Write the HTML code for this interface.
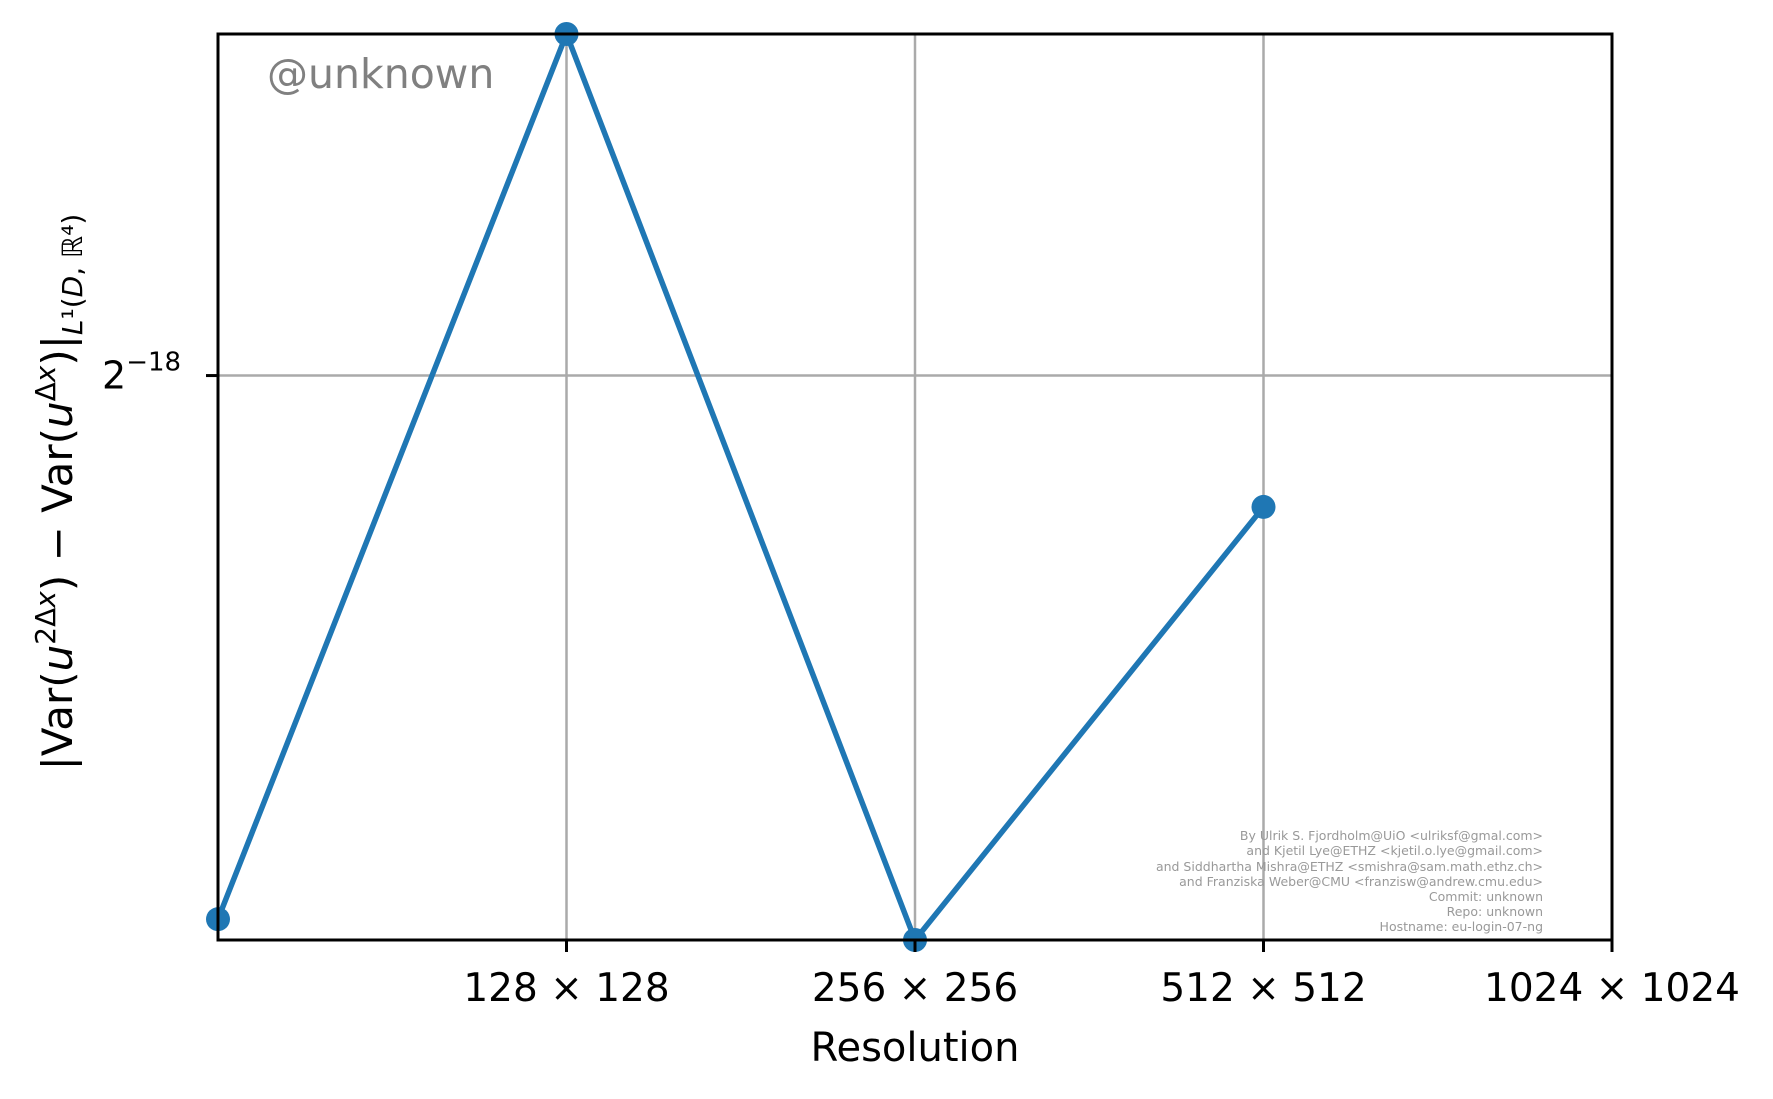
<!DOCTYPE html>
<html><head><meta charset="utf-8">
<style>
html,body{margin:0;padding:0;background:#fff;}
svg{display:block;font-family:"DejaVu Sans","Liberation Sans",sans-serif;}
</style></head>
<body>
<svg id="chart" width="1773" height="1099" viewBox="0 0 1773 1099">
  <g id="grid"></g>
  <g id="series"></g>
  <rect x="218" y="34" width="1394" height="906" fill="none" stroke="#000" stroke-width="3"/>
  <g id="ticks"></g>
  <text x="267" y="88" font-size="41" fill="#808080">@unknown</text>
  <g font-size="12.5" fill="#999" text-anchor="end">
    <text x="1543" y="840">By Ulrik S. Fjordholm@UiO &lt;ulriksf@gmal.com&gt;</text>
    <text x="1543" y="855">and Kjetil Lye@ETHZ &lt;kjetil.o.lye@gmail.com&gt;</text>
    <text x="1543" y="871">and Siddhartha Mishra@ETHZ &lt;smishra@sam.math.ethz.ch&gt;</text>
    <text x="1543" y="886">and Franziska Weber@CMU &lt;franzisw@andrew.cmu.edu&gt;</text>
    <text x="1543" y="901">Commit: unknown</text>
    <text x="1543" y="916">Repo: unknown</text>
    <text x="1543" y="931">Hostname: eu-login-07-ng</text>
  </g>
  <text x="915" y="1061" font-size="40" text-anchor="middle">Resolution</text>
  <text transform="translate(72,492) rotate(-90)" font-size="42" text-anchor="middle">|Var(<tspan font-style="italic">u</tspan><tspan font-size="28" dy="-17">2Δ<tspan font-style="italic">x</tspan></tspan><tspan dy="17">) − Var(</tspan><tspan font-style="italic">u</tspan><tspan font-size="28" dy="-17">Δ<tspan font-style="italic">x</tspan></tspan><tspan dy="17">)|</tspan><tspan font-size="28" dy="10"><tspan font-style="italic">L</tspan>¹(<tspan font-style="italic">D</tspan>, ℝ⁴)</tspan></text>
</svg>
<script>
const categories = ["64×64","128×128","256×256","512×512","1024×1024"];
const tickLabels = ["128 × 128","256 × 256","512 × 512","1024 × 1024"];
const tickIndices = [1,2,3,4];
const seriesLog2 = [-18.60, -17.623, -18.623, -18.145];
const yTickLog2 = [-18];
const yTickLabels = ["18"];

const NS="http://www.w3.org/2000/svg";
const L=218,R=1612,T=34,B=940;
const xMin=0,xMax=4,yMin=-18.623,yMax=-17.623;
function xs(i){return L+(i-xMin)/(xMax-xMin)*(R-L);}
function ys(v){return B-(v-yMin)/(yMax-yMin)*(B-T);}
function mk(tag,attrs,parent){const e=document.createElementNS(NS,tag);for(const k in attrs)e.setAttribute(k,attrs[k]);parent.appendChild(e);return e;}
const grid=document.getElementById('grid'),ticks=document.getElementById('ticks'),ser=document.getElementById('series');
tickIndices.forEach((ti,k)=>{
  const x=xs(ti);
  const g=mk('line',{x1:x,x2:x,y1:T,y2:B,stroke:'#aaaaaa','stroke-width':2.5},grid);
  
  
  const t=mk('line',{x1:x,x2:x,y1:B,y2:B+12,stroke:'#000','stroke-width':3},ticks);
  
  
  const lb=mk('text',{x:x,y:1001,'font-size':39,'text-anchor':'middle'},ticks);
  lb.textContent=tickLabels[k];
  
  
});
yTickLog2.forEach((v,k)=>{
  const y=ys(v);
  const g=mk('line',{x1:L,x2:R,y1:y,y2:y,stroke:'#aaaaaa','stroke-width':2.5},grid);
  
  
  const t=mk('line',{x1:L-12,x2:L,y1:y,y2:y,stroke:'#000','stroke-width':3},ticks);
  
  
  const lb=mk('text',{x:102,y:y+13,'font-size':38},ticks);
  lb.innerHTML='2<tspan font-size="26" dy="-18">−'+yTickLabels[k]+'</tspan>';
  
  
});
const pts=seriesLog2.map((v,i)=>xs(i)+','+ys(v)).join(' ');
const pl=mk('polyline',{points:pts,fill:'none',stroke:'#1f77b4','stroke-width':5.5,'stroke-linejoin':'round'},ser);


seriesLog2.forEach((v,i)=>{
  const c=mk('circle',{cx:xs(i),cy:ys(v),r:12,fill:'#1f77b4'},ser);
  
  
});
</script>
</body></html>
